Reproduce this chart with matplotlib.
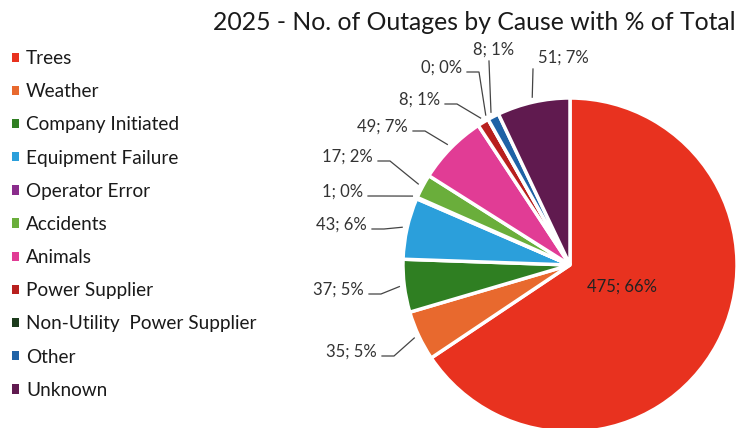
import numpy as np
import matplotlib
matplotlib.use("Agg")
import matplotlib.pyplot as plt
from matplotlib.patches import Patch

plt.rcParams['font.family'] = ['Lato', 'DejaVu Sans']

categories = ["Trees", "Weather", "Company Initiated", "Equipment Failure",
              "Operator Error", "Accidents", "Animals", "Power Supplier",
              "Non-Utility  Power Supplier", "Other", "Unknown"]
counts = [475, 35, 37, 43, 1, 17, 49, 8, 0, 8, 51]
colors = ["#E8321F", "#E8692E", "#2F7F22", "#2B9FDB", "#8A2C8C", "#6AAE3B",
          "#E13C95", "#B8201E", "#1C3B1C", "#1F62A6", "#601A4F"]

W, H = 741, 428
fig = plt.figure(figsize=(W / 100, H / 100), dpi=100)
ax = fig.add_axes([0, 0, 1, 1])

def py(y):
    return H - y

cx, cy, R = 570, py(265), 167
explode = [0.02] * len(counts)
wedges, _ = ax.pie(counts, colors=colors, startangle=90, counterclock=False,
                   center=(cx, cy), radius=R, explode=explode,
                   wedgeprops=dict(edgecolor='white', linewidth=2.5),
                   frame=True)
ax.set_xlim(0, W)
ax.set_ylim(0, H)
ax.set_aspect('equal')
ax.axis('off')

total = sum(counts)
labels = [f"{c}; {round(100 * c / total):.0f}%" for c in counts]

# label layout: (text x, text y in px-from-top, ha, style)
label_pos = [None,
             (377, 352, 'right', 'h'),
             (364, 290, 'right', 'h'),
             (367, 225, 'right', 'h'),
             (363, 192, 'right', 'h'),
             (373, 157, 'right', 'h'),
             (408, 127, 'right', 'h'),
             (440, 100, 'right', 'h'),
             (462, 68, 'right', 'h'),
             (494, 50, 'center', 'v'),
             (538, 58, 'left', 'v')]

fs_lab = 12
for i, w in enumerate(wedges):
    mid = np.deg2rad((w.theta1 + w.theta2) / 2)
    if i == 0:
        ax.text(cx + 0.35 * R * np.cos(mid), cy + 0.35 * R * np.sin(mid) + 6,
                labels[i], ha='center', va='center', fontsize=fs_lab, color='#222222')
        continue
    tx, ty, ha, style = label_pos[i]
    ax.text(tx, py(ty), labels[i], ha=ha, va='center', fontsize=fs_lab, color='#333333')
    ex = cx + 1.03 * R * np.cos(mid)
    ey = cy + 1.03 * R * np.sin(mid)
    if style == 'h':
        x0, y0 = tx + 5, py(ty + 4)
        x1 = x0 + 12
        ax.plot([x0, x1, ex], [y0, y0, ey], color='#444444', lw=0.9,
                solid_joinstyle='miter')
    else:
        x0 = ex - 2 if ha == 'center' else tx - 5
        y0 = py(ty + 11)
        ax.plot([x0, ex], [y0, ey], color='#444444', lw=0.9)

fig.text(736 / W, 1 - 22 / H, "2025 - No. of Outages by Cause with % of Total",
         ha='right', va='center', fontsize=17.8, color='#1a1a1a')

handles = [Patch(facecolor=c, edgecolor='none') for c in colors]
leg = fig.legend(handles, categories, loc='upper left',
                 bbox_to_anchor=(12 / W, 1 - 50 / H), frameon=False,
                 fontsize=13.7, handlelength=0.38, handleheight=0.38,
                 handletextpad=0.35, labelspacing=0.85, borderpad=0, borderaxespad=0)
for t in leg.get_texts():
    t.set_color('#1a1a1a')

fig.savefig("out.png", dpi=100, facecolor='white')
